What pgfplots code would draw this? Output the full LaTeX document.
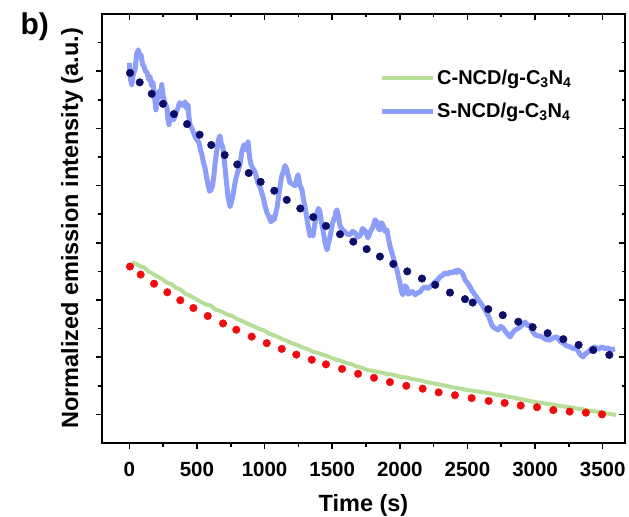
\documentclass[border=0pt]{standalone}
\usepackage{fontspec}
\setmainfont{Liberation Sans}
\usepackage{pgfplots}
\pgfplotsset{compat=1.18}
\definecolor{lineblue}{RGB}{140,158,248}
\definecolor{linegreen}{RGB}{182,222,150}
\definecolor{dotnavy}{RGB}{12,12,105}
\definecolor{dotred}{RGB}{240,12,12}
\newcommand{\tickfont}{\fontsize{20.5bp}{24bp}\selectfont\bfseries}
\newcommand{\labfont}{\fontsize{23.5bp}{27bp}\selectfont\bfseries}

\pgfplotsset{
  frame/.style={
    width=523bp, height=429bp, scale only axis,
    xmin=-202, xmax=3665, ymin=-0.1, ymax=1.4,
    xtick={0,500,...,3500}, minor xtick={250,750,...,3250},
    ytick={0,0.2,...,1.2}, minor ytick={0.1,0.3,...,1.3},
    axis line style={line width=2bp},
    every tick/.style={black, line width=1.6bp},
    major tick length=6bp, minor tick length=3.5bp,
    scaled ticks=false,
    /pgf/number format/1000 sep={},
    /pgf/number format/assume math mode=true,
  }
}

\begin{document}
\begin{tikzpicture}
\begin{axis}[frame, name=ax,
  xtick pos=left, ytick pos=left, tick align=outside,
  yticklabels={},
  tick label style={font=\tickfont},
  xticklabel style={yshift=-10bp},
  xlabel={Time (s)},
  ylabel={Normalized emission intensity (a.u.)},
  every axis x label/.style={at={(rel axis cs:0.5,0)}, anchor=base, yshift=-68.7bp, font=\labfont},
  every axis y label/.style={at={(rel axis cs:0,0.5)}, anchor=center, rotate=90, yshift=30bp, font=\labfont},
  legend style={draw=none, fill=none, at={(rel axis cs:0.5296,0.874)}, anchor=north west,
    font=\fontsize{20bp}{24bp}\selectfont\bfseries, inner sep=0pt, row sep=13bp,
    nodes={inner sep=2bp}},
  legend cell align=left,
  legend image code/.code={\draw[#1] (0bp,0bp) -- (51bp,0bp);},
]
% C-NCD/g-C3N4 (measured)
\addplot[linegreen, line width=4bp, line join=round] coordinates {
(20,0.532)(50,0.526)(80,0.518)(110,0.514)(140,0.500)(170,0.493)(200,0.484)(240,0.474)
(280,0.460)(310,0.456)(340,0.444)(380,0.436)(420,0.420)(450,0.415)(490,0.404)(530,0.393)
(570,0.384)(600,0.381)(640,0.366)(680,0.360)(720,0.350)(760,0.344)(800,0.333)(840,0.325)
(880,0.316)(920,0.308)(960,0.299)(1000,0.293)(1040,0.281)(1080,0.275)(1120,0.266)(1160,0.258)
(1200,0.249)(1240,0.243)(1280,0.234)(1320,0.228)(1360,0.219)(1400,0.214)(1440,0.207)(1480,0.201)
(1520,0.193)(1560,0.188)(1600,0.180)(1640,0.176)(1680,0.168)(1720,0.163)(1760,0.155)(1800,0.152)
(1850,0.148)(1900,0.142)(1950,0.139)(2000,0.132)(2050,0.129)(2100,0.123)(2150,0.119)(2200,0.113)
(2250,0.108)(2300,0.104)(2350,0.099)(2400,0.094)(2450,0.090)(2500,0.085)(2550,0.082)(2600,0.078)
(2650,0.075)(2700,0.070)(2750,0.067)(2800,0.062)(2850,0.058)(2900,0.053)(2950,0.048)(3000,0.043)
(3050,0.040)(3100,0.036)(3150,0.033)(3200,0.028)(3250,0.026)(3300,0.021)(3350,0.018)(3400,0.013)
(3450,0.010)(3500,0.007)(3550,0.002)(3600,-0.002)
};
\addlegendentry{C-NCD/g-C\textsubscript{3}N\textsubscript{4}}
% S-NCD/g-C3N4 (measured)
\addplot[lineblue, line width=5bp, line join=round] coordinates {
(0,1.229)(9,1.170)(18,1.153)(30,1.190)(42,1.205)(55,1.262)(67,1.275)(76,1.250)(86,1.258)(98,1.225)(109,1.216)
(120,1.200)(131,1.195)(142,1.172)(153,1.181)(164,1.150)(175,1.160)(186,1.110)(197,1.065)(205,1.100)(214,1.128)
(227,1.110)(240,1.153)(248,1.120)(257,1.100)(268,1.085)(279,1.072)(286,1.030)(293,1.013)(305,1.050)(316,1.044)
(327,1.030)(338,1.041)(349,1.060)(360,1.072)(371,1.090)(382,1.086)(397,1.080)(412,1.093)(423,1.070)(434,1.083)
(441,1.040)(449,1.013)(467,0.995)(486,0.971)(500,0.960)(515,0.950)(526,0.925)(537,0.908)(548,0.880)(560,0.862)
(571,0.830)(582,0.803)(593,0.780)(604,0.785)(615,0.800)(626,0.838)(637,0.890)(648,0.925)(659,0.960)(670,0.974)
(681,0.945)(693,0.932)(704,0.880)(715,0.827)(730,0.760)(745,0.726)(756,0.745)(767,0.768)(778,0.800)(789,0.827)
(803,0.850)(818,0.873)(833,0.920)(848,0.943)(863,0.925)(878,0.953)(889,0.900)(900,0.873)(914,0.860)(929,0.848)
(940,0.830)(951,0.810)(970,0.790)(989,0.761)(1003,0.730)(1018,0.705)(1033,0.690)(1048,0.673)(1059,0.690)(1070,0.680)
(1081,0.700)(1092,0.722)(1103,0.760)(1114,0.796)(1125,0.830)(1136,0.845)(1151,0.870)(1166,0.855)(1177,0.830)(1188,0.810)
(1207,0.805)(1225,0.799)(1236,0.820)(1247,0.838)(1262,0.800)(1277,0.785)(1288,0.750)(1299,0.726)(1318,0.670)(1336,0.624)
(1347,0.635)(1358,0.624)(1373,0.670)(1388,0.705)(1399,0.720)(1410,0.708)(1421,0.670)(1432,0.645)(1447,0.600)(1462,0.575)
(1473,0.600)(1484,0.621)(1503,0.670)(1521,0.691)(1528,0.710)(1536,0.715)(1547,0.690)(1558,0.659)(1577,0.645)(1595,0.638)
(1613,0.630)(1632,0.628)(1650,0.640)(1669,0.635)(1688,0.620)(1706,0.624)(1725,0.650)(1743,0.642)(1754,0.630)(1765,0.617)
(1784,0.640)(1802,0.656)(1817,0.680)(1831,0.673)(1842,0.650)(1853,0.645)(1864,0.670)(1875,0.663)(1890,0.640)(1905,0.645)
(1916,0.615)(1927,0.589)(1939,0.570)(1950,0.551)(1965,0.525)(1979,0.505)(1990,0.480)(2001,0.460)(2012,0.430)(2023,0.418)
(2038,0.450)(2053,0.442)(2064,0.420)(2075,0.425)(2094,0.430)(2112,0.418)(2131,0.425)(2149,0.428)(2168,0.440)(2186,0.446)
(2205,0.440)(2223,0.446)(2242,0.455)(2260,0.463)(2279,0.470)(2297,0.481)(2316,0.486)(2334,0.495)(2353,0.490)(2371,0.498)
(2390,0.495)(2408,0.502)(2419,0.496)(2430,0.505)(2445,0.500)(2460,0.495)(2471,0.485)(2482,0.470)(2500,0.460)(2519,0.446)
(2538,0.430)(2556,0.418)(2575,0.405)(2593,0.393)(2612,0.380)(2630,0.365)(2649,0.350)(2667,0.330)(2678,0.315)(2689,0.306)
(2708,0.300)(2726,0.295)(2745,0.308)(2763,0.302)(2789,0.285)(2815,0.271)(2834,0.285)(2852,0.295)(2871,0.300)(2889,0.306)
(2908,0.315)(2926,0.323)(2945,0.310)(2963,0.313)(2982,0.290)(3000,0.278)(3025,0.275)(3051,0.271)(3081,0.262)(3110,0.260)
(3136,0.268)(3162,0.271)(3185,0.255)(3207,0.250)(3233,0.240)(3258,0.236)(3284,0.230)(3310,0.229)(3332,0.210)(3354,0.201)
(3372,0.212)(3391,0.218)(3417,0.230)(3443,0.236)(3469,0.228)(3495,0.236)(3517,0.230)(3539,0.232)(3565,0.226)(3591,0.229)
};
\addlegendentry{S-NCD/g-C\textsubscript{3}N\textsubscript{4}}
% fits
\addplot[forget plot, only marks, mark=*, mark size=3.8bp, dotred, mark options={draw=dotred, fill=dotred}] coordinates {
(5,0.517)(84,0.489)(183,0.457)(281,0.427)(377,0.399)(474,0.372)(580,0.344)(693,0.318)
(791,0.296)(905,0.272)(1016,0.249)(1127,0.229)(1235,0.209)(1349,0.191)(1454,0.175)(1573,0.159)
(1691,0.142)(1809,0.128)(1927,0.113)(2048,0.100)(2169,0.090)(2287,0.077)(2408,0.067)(2531,0.057)
(2657,0.047)(2775,0.040)(2894,0.031)(3014,0.025)(3135,0.015)(3256,0.010)(3376,0.006)(3495,0.000)
};
\addplot[forget plot, only marks, mark=*, mark size=3.8bp, dotnavy, mark options={draw=dotnavy, fill=dotnavy}] coordinates {
(5,1.194)(77,1.161)(166,1.121)(249,1.086)(330,1.050)(427,1.015)(520,0.978)(606,0.942)
(705,0.907)(798,0.874)(883,0.844)(971,0.813)(1072,0.782)(1164,0.750)(1264,0.720)(1360,0.690)
(1454,0.659)(1558,0.630)(1656,0.604)(1755,0.578)(1853,0.552)(1952,0.526)(2055,0.500)(2164,0.475)
(2262,0.453)(2371,0.426)(2482,0.403)(2539,0.391)(2654,0.368)(2761,0.347)(2876,0.324)(2982,0.305)
(3093,0.284)(3209,0.263)(3322,0.243)(3430,0.225)(3549,0.208)
};
\end{axis}
\begin{axis}[frame,
  xtick pos=right, ytick pos=right, tick align=inside,
  xticklabels={}, yticklabels={},
]
\addplot[draw=none] coordinates {(0,0)};
\end{axis}
\node[anchor=base west, font=\fontsize{30bp}{34bp}\selectfont\bfseries] at ([shift={(-85bp,-21bp)}]ax.north west) {b)};
\pgfresetboundingbox
\path[use as bounding box] ([shift={(-102bp,-74bp)}]ax.south west) rectangle ([shift={(4bp,14bp)}]ax.north east);
\end{tikzpicture}
\end{document}
